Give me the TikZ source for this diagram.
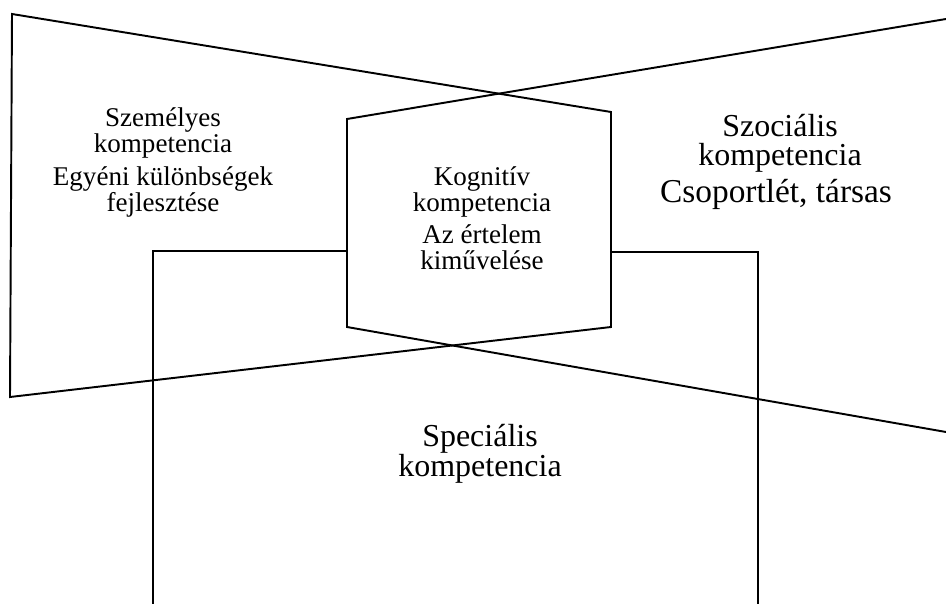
\documentclass[tikz,border=0pt]{standalone}
\usepackage{fontspec}
\setmainfont{Liberation Serif}
\usetikzlibrary{positioning}

\begin{document}
\begin{tikzpicture}[x=0.02cm, y=-0.02cm,
    edge/.style={line width=1.1pt, line join=miter},
    frame/.style={line width=0.9pt},
    small/.style={align=center, anchor=base, inner sep=0pt, font=\fontsize{15.4}{14.8}\selectfont},
    large/.style={align=center, anchor=base, inner sep=0pt, font=\fontsize{18.2}{17}\selectfont}
]
\useasboundingbox (0,0) rectangle (946,604);

% === Corner points ===
\coordinate (lt) at (12,14);
\coordinate (lb) at (10,397);
\coordinate (rt) at (946,19);
\coordinate (rb) at (946,432);
\coordinate (hnw) at (347,119);
\coordinate (hne) at (611,112);
\coordinate (hse) at (611,327);
\coordinate (hsw) at (347,327);

% === Personal (left) wedge ===
\draw[edge] (lt) -- (hne) -- (hse) -- (lb) -- cycle;

% === Social (right) wedge ===
\draw[edge] (rt) -- (hnw) -- (hsw) -- (rb);

% === Special frame (behind the centre) ===
\draw[frame] (153,604) -- (153,251) -- (hnw |- 0,251);
\draw[frame] (hne |- 0,252) -- (758,252) -- (758,604);

% === Labels (base = last line) ===
\node[small] (szem) at (163,153) {Személyes\\kompetencia};
\node[small] (egyeni) at (163,212) {Egyéni különbségek\\fejlesztése};

\node[small] (kogn) at (482,212) {Kognitív\\kompetencia};
\node[small] (ertelem) at (482,270) {Az értelem\\kiművelése};

\node[large] (szoc) at (780,166) {Szociális\\kompetencia};
\node[large, font=\fontsize{19}{17}\selectfont] (csop) at (776,203) {Csoportlét, társas};

\node[large] (spec) at (480,476) {Speciális\\kompetencia};

\end{tikzpicture}
\end{document}
